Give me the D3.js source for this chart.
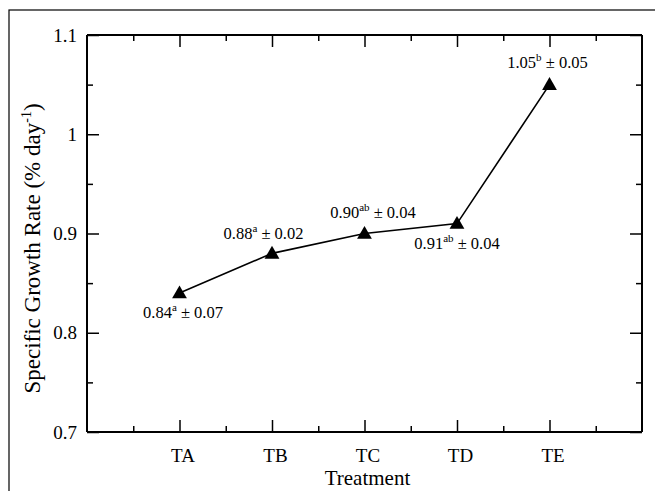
<!DOCTYPE html>
<html>
<head>
<meta charset="utf-8">
<script src="https://cdn.jsdelivr.net/npm/d3@7/dist/d3.min.js"></script>
<style>
  html, body { margin: 0; padding: 0; background: #fff; }
  svg { display: block; }
  svg text { font-family: "Liberation Serif", "Times New Roman", serif; }
</style>
</head>
<body>
<svg id="chart" width="655" height="491"></svg>
<script>
// ---- data ----
const categories = ["TA", "TB", "TC", "TD", "TE"];
const growthRate = [0.84, 0.88, 0.90, 0.91, 1.05];
const letters = ["a", "a", "ab", "ab", "b"];
const errors = ["0.07", "0.02", "0.04", "0.04", "0.05"];
const yTicks = [0.7, 0.8, 0.9, 1.0, 1.1];
const yTickLabels = ["0.7", "0.8", "0.9", "1", "1.1"];
const yMinorTicks = [0.75, 0.85, 0.95, 1.05];
const xMinorTicks = [0.5, 1.5, 2.5, 3.5, 4.5, 5.5];

// ---- layout ----
const FONT = "'Liberation Serif', 'Times New Roman', serif";
const svg = d3.select("#chart");
const L = 87, R = 642, T = 35, B = 432;
const x = d3.scaleLinear().domain([0, 6]).range([L, R]);
const y = d3.scaleLinear().domain([0.7, 1.1]).range([B, T]);
const xPos = categories.map((c, i) => i + 1);

// outer frame
svg.append("rect").attr("x", 9).attr("y", 10).attr("width", 700).attr("height", 600)
  .attr("fill", "none").attr("stroke", "#000").attr("stroke-width", 1.2);

const major = 12, minor = 6;
const gB = svg.append("g").attr("transform", `translate(0,${B})`)
  .call(d3.axisBottom(x).tickValues(xPos).tickFormat((d, i) => categories[i]).tickSize(-major).tickPadding(major + 5));
const gBm = svg.append("g").attr("transform", `translate(0,${B})`)
  .call(d3.axisBottom(x).tickValues(xMinorTicks).tickFormat("").tickSize(-minor));
const gT = svg.append("g").attr("transform", `translate(0,${T})`)
  .call(d3.axisTop(x).tickValues(xPos).tickFormat("").tickSize(-major));
const gTm = svg.append("g").attr("transform", `translate(0,${T})`)
  .call(d3.axisTop(x).tickValues(xMinorTicks).tickFormat("").tickSize(-minor));
const gL = svg.append("g").attr("transform", `translate(${L},0)`)
  .call(d3.axisLeft(y).tickValues(yTicks).tickFormat((d, i) => yTickLabels[i]).tickSize(-major).tickPadding(10));
const gLm = svg.append("g").attr("transform", `translate(${L},0)`)
  .call(d3.axisLeft(y).tickValues(yMinorTicks).tickFormat("").tickSize(-minor));
const gR = svg.append("g").attr("transform", `translate(${R},0)`)
  .call(d3.axisRight(y).tickValues(yTicks).tickFormat("").tickSize(-major));
const gRm = svg.append("g").attr("transform", `translate(${R},0)`)
  .call(d3.axisRight(y).tickValues(yMinorTicks).tickFormat("").tickSize(-minor));

svg.selectAll("g").attr("font-family", FONT);
svg.selectAll("g .domain").attr("stroke", "#000").attr("stroke-width", 2);
svg.selectAll("g .tick line").attr("stroke", "#000").attr("stroke-width", 1.5);
svg.selectAll("g .tick text").attr("fill", "#000").attr("font-size", 19);
gB.selectAll(".tick text").attr("dx", 3);
gL.select(".domain").attr("d", `M0,${T}V${B}`);
gR.select(".domain").attr("d", `M0,${T}V${B}`);
gB.select(".domain").attr("d", `M${L},0H${R}`);
gT.select(".domain").attr("d", `M${L},0H${R}`);
gLm.select(".domain").remove(); gRm.select(".domain").remove();
gBm.select(".domain").remove(); gTm.select(".domain").remove();

// axis titles
svg.append("text").attr("x", (L + R) / 2 + 3).attr("y", 485).attr("text-anchor", "middle")
  .attr("font-family", FONT).attr("font-size", 21).text("Treatment");
const yt = svg.append("text").attr("transform", `translate(40,${(T + B) / 2 + 15}) rotate(-90)`)
  .attr("text-anchor", "middle").attr("font-family", FONT).attr("font-size", 23);
yt.append("tspan").text("Specific Growth Rate (% day");
yt.append("tspan").attr("dy", -9).attr("font-size", 14).text("-1");
yt.append("tspan").attr("dy", 9).text(")");

// line and markers
const pts = growthRate.map((v, i) => [x(xPos[i]), y(v)]);
svg.append("path").attr("d", d3.line()(pts)).attr("fill", "none")
  .attr("stroke", "#000").attr("stroke-width", 1.6);
svg.selectAll("path.mark").data(pts).enter().append("path").attr("class", "mark")
  .attr("transform", d => `translate(${d[0]},${d[1] + 1})`)
  .attr("d", d3.symbol().type(d3.symbolTriangle).size(95)).attr("fill", "#000");

// value labels
const labelDx = [3.5, -8.5, 8.5, 0, -2];
const labelDy = [25, -14.5, -15.5, 25.5, -16.5];
growthRate.forEach((v, i) => {
  const t = svg.append("text").attr("x", pts[i][0] + labelDx[i]).attr("y", pts[i][1] + labelDy[i])
    .attr("text-anchor", "middle").attr("font-family", FONT).attr("font-size", 16.5);
  t.append("tspan").text(v.toFixed(2));
  t.append("tspan").attr("dy", -7).attr("font-size", 11).text(letters[i]);
  t.append("tspan").attr("dy", 7).text(" ± " + errors[i]);
});
</script>
</body>
</html>
